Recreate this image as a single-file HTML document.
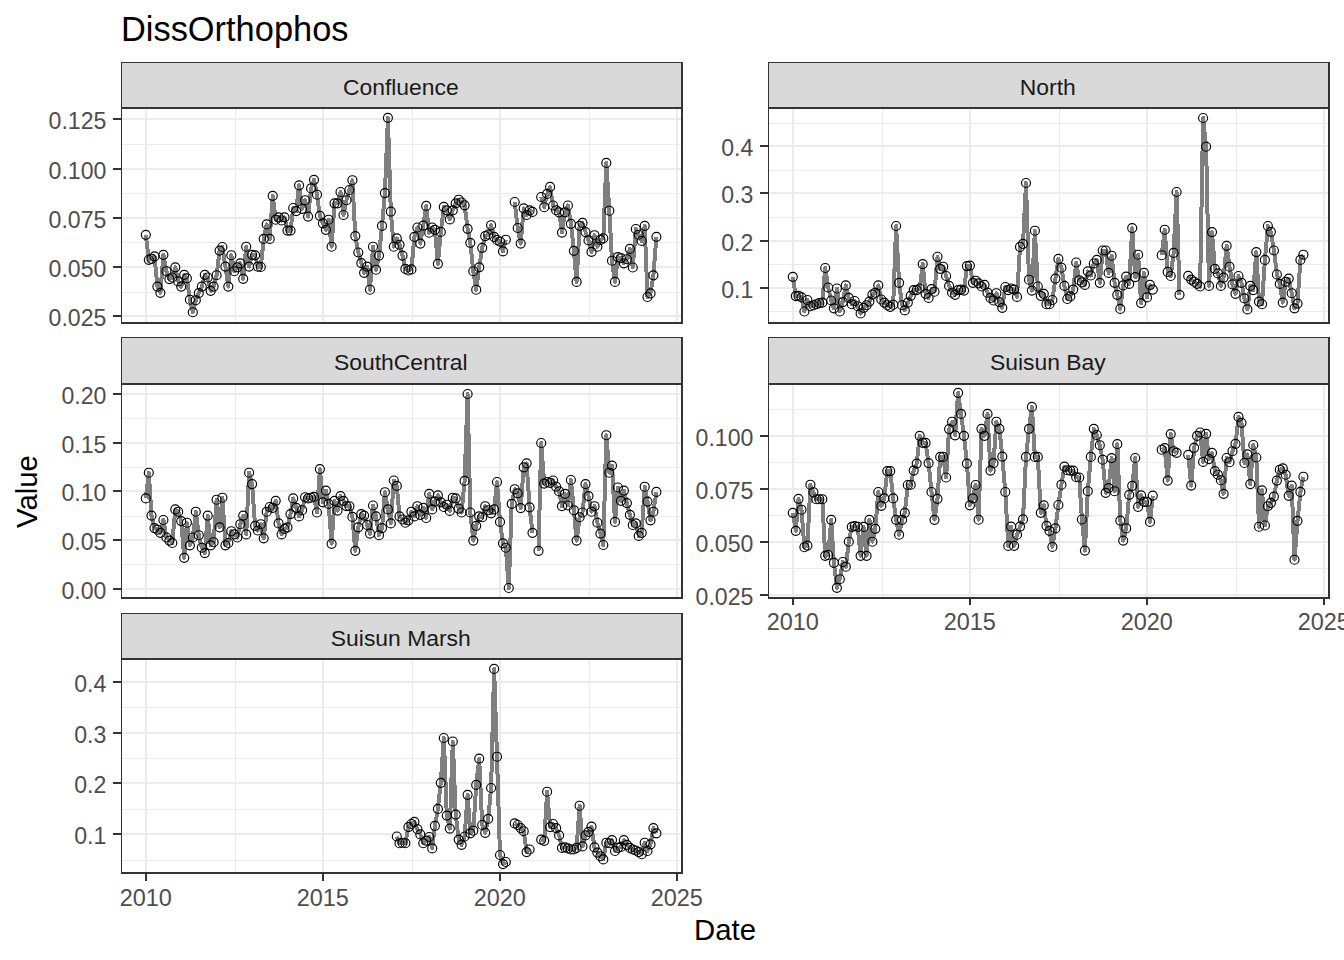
<!DOCTYPE html>
<html lang="en"><head><meta charset="utf-8"><title>DissOrthophos</title>
<style>html,body{margin:0;padding:0;background:#fff;overflow:hidden}body{width:1344px;height:960px}</style></head>
<body>
<svg width="1344" height="960" viewBox="0 0 1344 960" style="display:block" font-family='"Liberation Sans", Arial, Helvetica, sans-serif'>
<rect width="1344" height="960" fill="#fff"/>
<text x="121" y="41" font-size="34.4" fill="#000">DissOrthophos</text>
<g id="p0">
<path d="M121 62h562v46h-562z" fill="#d9d9d9" shape-rendering="crispEdges"/>
<text x="400.8" y="95" font-size="22.9" fill="#1a1a1a" text-anchor="middle">Confluence</text>
<path d="M122 144h559v1h-559zM122 193h559v1h-559zM122 242h559v1h-559zM122 292h559v1h-559zM235 109h1v213h-1zM412 109h1v213h-1zM589 109h1v213h-1zM122 118h559v2h-559zM122 168h559v2h-559zM122 217h559v2h-559zM122 266h559v2h-559zM122 315h559v2h-559zM145 109h2v213h-2zM322 109h2v213h-2zM499 109h2v213h-2zM676 109h2v213h-2z" fill="#ebebeb" shape-rendering="crispEdges"/>
<path d="M145.8 234.8L148.8 259.8L151.5 258.8L154.5 256.4L157.4 286.6L160.4 292.8L163.4 254.8L166.4 271.2L169.4 279.1L172.3 277.5L175.3 267.3L178.2 281.4L181.2 286.6L184.2 274.8L186.9 278.3L189.9 299.7L192.8 312.2L195.8 300.2L198.8 293.1L201.8 286.6L204.8 274.8L207.7 277.5L210.7 290.8L213.6 286.6L216.6 275.2L219.6 250.6L222.4 247L225.4 266.6L228.3 286.6L231.3 255.2L234.3 271.2L237.3 267.3L240.3 263.4L243.2 278.8L246.2 246.7L249.1 266.6L252.1 254.8L255.1 255.3L257.8 266.6L260.8 267L263.7 238.9L266.7 224.4L269.7 238.9L272.7 195.8L275.7 219.7L278.6 217.3L281.6 220.5L284.5 217.3L287.5 230.6L290.5 230.6L293.2 208L296.2 211.1L299.1 185.3L302.1 208.8L305.1 200.2L308.1 216.6L311.1 188.4L314 179.8L317 194.7L319.9 215.8L322.9 223.3L325.9 229.8L328.6 219.7L331.6 246.7L334.5 203.3L337.5 203.3L340.5 192L343.5 215L346.5 200.2L349.4 190L352.4 180.2L355.3 236.1L358.3 252.5L361.3 263.1L364.1 272.8L367.1 266.6L370 289.7L373 246.7L376 269.7L379 255.6L382 225.9L384.9 193.1L387.9 117.8L390.8 211.6L393.8 246.7L396.8 238.4L399.5 244.7L402.5 255.6L405.4 268.9L408.4 270.5L411.4 269.4L414.4 236.9L417.4 227.5L420.3 243.6L423.3 225.6L426.2 205.9L429.2 232.7L432.2 227.5L434.9 229.8L437.9 263.8L440.8 231.9L443.8 206.9L446.8 210.3L449.8 219.4L452.8 210.3L455.7 203.3L458.7 199.7L461.6 202.5L464.6 205.3L467.6 228.8L470.3 242.8L473.3 271.2L476.2 289.7L479.2 267.3L482.2 247.8L485.2 236.1L488.2 234.5L491.1 225.2L494.1 236.9L497 240L500 241.6L503 251.4L505.8 239.7M514.7 202L517.7 228L520.7 243.6L523.7 208.4L526.6 215L529.6 210.3L532.5 211.9M541.2 197L544.2 207.2L547.1 193.9L550.1 186.9L553.1 205.5L556.1 210.2L559.1 212.3L562 232.6L565 212.3L567.9 205.5L570.9 223.8L573.9 250.8L576.6 281.9L579.6 225.8L582.5 222.9L585.5 232.1L588.5 240.4L591.5 251.9L594.5 235.2L597.4 246.7L600.4 239.9L603.3 238.3L606.3 162.9L609.3 210.7L612 260.7L615 281.9L617.9 257.1L620.9 258.1L623.9 263.3L626.9 259.2L629.9 248.8L632.8 267.5L635.8 229L638.7 234.7L641.7 240.9L644.7 225.8L647.5 297L650.5 293.4L653.4 275.3L656.4 236.8" stroke="#7f7f7f" stroke-width="4" fill="none" stroke-linejoin="round" shape-rendering="crispEdges"/>
<g fill="none" stroke="#000" stroke-width="1.15"><circle cx="145.8" cy="234.8" r="4.5"/><circle cx="148.8" cy="259.8" r="4.5"/><circle cx="151.5" cy="258.8" r="4.5"/><circle cx="154.5" cy="256.4" r="4.5"/><circle cx="157.4" cy="286.6" r="4.5"/><circle cx="160.4" cy="292.8" r="4.5"/><circle cx="163.4" cy="254.8" r="4.5"/><circle cx="166.4" cy="271.2" r="4.5"/><circle cx="169.4" cy="279.1" r="4.5"/><circle cx="172.3" cy="277.5" r="4.5"/><circle cx="175.3" cy="267.3" r="4.5"/><circle cx="178.2" cy="281.4" r="4.5"/><circle cx="181.2" cy="286.6" r="4.5"/><circle cx="184.2" cy="274.8" r="4.5"/><circle cx="186.9" cy="278.3" r="4.5"/><circle cx="189.9" cy="299.7" r="4.5"/><circle cx="192.8" cy="312.2" r="4.5"/><circle cx="195.8" cy="300.2" r="4.5"/><circle cx="198.8" cy="293.1" r="4.5"/><circle cx="201.8" cy="286.6" r="4.5"/><circle cx="204.8" cy="274.8" r="4.5"/><circle cx="207.7" cy="277.5" r="4.5"/><circle cx="210.7" cy="290.8" r="4.5"/><circle cx="213.6" cy="286.6" r="4.5"/><circle cx="216.6" cy="275.2" r="4.5"/><circle cx="219.6" cy="250.6" r="4.5"/><circle cx="222.4" cy="247" r="4.5"/><circle cx="225.4" cy="266.6" r="4.5"/><circle cx="228.3" cy="286.6" r="4.5"/><circle cx="231.3" cy="255.2" r="4.5"/><circle cx="234.3" cy="271.2" r="4.5"/><circle cx="237.3" cy="267.3" r="4.5"/><circle cx="240.3" cy="263.4" r="4.5"/><circle cx="243.2" cy="278.8" r="4.5"/><circle cx="246.2" cy="246.7" r="4.5"/><circle cx="249.1" cy="266.6" r="4.5"/><circle cx="252.1" cy="254.8" r="4.5"/><circle cx="255.1" cy="255.3" r="4.5"/><circle cx="257.8" cy="266.6" r="4.5"/><circle cx="260.8" cy="267" r="4.5"/><circle cx="263.7" cy="238.9" r="4.5"/><circle cx="266.7" cy="224.4" r="4.5"/><circle cx="269.7" cy="238.9" r="4.5"/><circle cx="272.7" cy="195.8" r="4.5"/><circle cx="275.7" cy="219.7" r="4.5"/><circle cx="278.6" cy="217.3" r="4.5"/><circle cx="281.6" cy="220.5" r="4.5"/><circle cx="284.5" cy="217.3" r="4.5"/><circle cx="287.5" cy="230.6" r="4.5"/><circle cx="290.5" cy="230.6" r="4.5"/><circle cx="293.2" cy="208" r="4.5"/><circle cx="296.2" cy="211.1" r="4.5"/><circle cx="299.1" cy="185.3" r="4.5"/><circle cx="302.1" cy="208.8" r="4.5"/><circle cx="305.1" cy="200.2" r="4.5"/><circle cx="308.1" cy="216.6" r="4.5"/><circle cx="311.1" cy="188.4" r="4.5"/><circle cx="314" cy="179.8" r="4.5"/><circle cx="317" cy="194.7" r="4.5"/><circle cx="319.9" cy="215.8" r="4.5"/><circle cx="322.9" cy="223.3" r="4.5"/><circle cx="325.9" cy="229.8" r="4.5"/><circle cx="328.6" cy="219.7" r="4.5"/><circle cx="331.6" cy="246.7" r="4.5"/><circle cx="334.5" cy="203.3" r="4.5"/><circle cx="337.5" cy="203.3" r="4.5"/><circle cx="340.5" cy="192" r="4.5"/><circle cx="343.5" cy="215" r="4.5"/><circle cx="346.5" cy="200.2" r="4.5"/><circle cx="349.4" cy="190" r="4.5"/><circle cx="352.4" cy="180.2" r="4.5"/><circle cx="355.3" cy="236.1" r="4.5"/><circle cx="358.3" cy="252.5" r="4.5"/><circle cx="361.3" cy="263.1" r="4.5"/><circle cx="364.1" cy="272.8" r="4.5"/><circle cx="367.1" cy="266.6" r="4.5"/><circle cx="370" cy="289.7" r="4.5"/><circle cx="373" cy="246.7" r="4.5"/><circle cx="376" cy="269.7" r="4.5"/><circle cx="379" cy="255.6" r="4.5"/><circle cx="382" cy="225.9" r="4.5"/><circle cx="384.9" cy="193.1" r="4.5"/><circle cx="387.9" cy="117.8" r="4.5"/><circle cx="390.8" cy="211.6" r="4.5"/><circle cx="393.8" cy="246.7" r="4.5"/><circle cx="396.8" cy="238.4" r="4.5"/><circle cx="399.5" cy="244.7" r="4.5"/><circle cx="402.5" cy="255.6" r="4.5"/><circle cx="405.4" cy="268.9" r="4.5"/><circle cx="408.4" cy="270.5" r="4.5"/><circle cx="411.4" cy="269.4" r="4.5"/><circle cx="414.4" cy="236.9" r="4.5"/><circle cx="417.4" cy="227.5" r="4.5"/><circle cx="420.3" cy="243.6" r="4.5"/><circle cx="423.3" cy="225.6" r="4.5"/><circle cx="426.2" cy="205.9" r="4.5"/><circle cx="429.2" cy="232.7" r="4.5"/><circle cx="432.2" cy="227.5" r="4.5"/><circle cx="434.9" cy="229.8" r="4.5"/><circle cx="437.9" cy="263.8" r="4.5"/><circle cx="440.8" cy="231.9" r="4.5"/><circle cx="443.8" cy="206.9" r="4.5"/><circle cx="446.8" cy="210.3" r="4.5"/><circle cx="449.8" cy="219.4" r="4.5"/><circle cx="452.8" cy="210.3" r="4.5"/><circle cx="455.7" cy="203.3" r="4.5"/><circle cx="458.7" cy="199.7" r="4.5"/><circle cx="461.6" cy="202.5" r="4.5"/><circle cx="464.6" cy="205.3" r="4.5"/><circle cx="467.6" cy="228.8" r="4.5"/><circle cx="470.3" cy="242.8" r="4.5"/><circle cx="473.3" cy="271.2" r="4.5"/><circle cx="476.2" cy="289.7" r="4.5"/><circle cx="479.2" cy="267.3" r="4.5"/><circle cx="482.2" cy="247.8" r="4.5"/><circle cx="485.2" cy="236.1" r="4.5"/><circle cx="488.2" cy="234.5" r="4.5"/><circle cx="491.1" cy="225.2" r="4.5"/><circle cx="494.1" cy="236.9" r="4.5"/><circle cx="497" cy="240" r="4.5"/><circle cx="500" cy="241.6" r="4.5"/><circle cx="503" cy="251.4" r="4.5"/><circle cx="505.8" cy="239.7" r="4.5"/><circle cx="514.7" cy="202" r="4.5"/><circle cx="517.7" cy="228" r="4.5"/><circle cx="520.7" cy="243.6" r="4.5"/><circle cx="523.7" cy="208.4" r="4.5"/><circle cx="526.6" cy="215" r="4.5"/><circle cx="529.6" cy="210.3" r="4.5"/><circle cx="532.5" cy="211.9" r="4.5"/><circle cx="541.2" cy="197" r="4.5"/><circle cx="544.2" cy="207.2" r="4.5"/><circle cx="547.1" cy="193.9" r="4.5"/><circle cx="550.1" cy="186.9" r="4.5"/><circle cx="553.1" cy="205.5" r="4.5"/><circle cx="556.1" cy="210.2" r="4.5"/><circle cx="559.1" cy="212.3" r="4.5"/><circle cx="562" cy="232.6" r="4.5"/><circle cx="565" cy="212.3" r="4.5"/><circle cx="567.9" cy="205.5" r="4.5"/><circle cx="570.9" cy="223.8" r="4.5"/><circle cx="573.9" cy="250.8" r="4.5"/><circle cx="576.6" cy="281.9" r="4.5"/><circle cx="579.6" cy="225.8" r="4.5"/><circle cx="582.5" cy="222.9" r="4.5"/><circle cx="585.5" cy="232.1" r="4.5"/><circle cx="588.5" cy="240.4" r="4.5"/><circle cx="591.5" cy="251.9" r="4.5"/><circle cx="594.5" cy="235.2" r="4.5"/><circle cx="597.4" cy="246.7" r="4.5"/><circle cx="600.4" cy="239.9" r="4.5"/><circle cx="603.3" cy="238.3" r="4.5"/><circle cx="606.3" cy="162.9" r="4.5"/><circle cx="609.3" cy="210.7" r="4.5"/><circle cx="612" cy="260.7" r="4.5"/><circle cx="615" cy="281.9" r="4.5"/><circle cx="617.9" cy="257.1" r="4.5"/><circle cx="620.9" cy="258.1" r="4.5"/><circle cx="623.9" cy="263.3" r="4.5"/><circle cx="626.9" cy="259.2" r="4.5"/><circle cx="629.9" cy="248.8" r="4.5"/><circle cx="632.8" cy="267.5" r="4.5"/><circle cx="635.8" cy="229" r="4.5"/><circle cx="638.7" cy="234.7" r="4.5"/><circle cx="641.7" cy="240.9" r="4.5"/><circle cx="644.7" cy="225.8" r="4.5"/><circle cx="647.5" cy="297" r="4.5"/><circle cx="650.5" cy="293.4" r="4.5"/><circle cx="653.4" cy="275.3" r="4.5"/><circle cx="656.4" cy="236.8" r="4.5"/></g>
<path d="M121 62h562v1h-562zM121 62h1v262h-1zM681 62h2v262h-2zM121 107h562v2h-562zM121 322h562v2h-562zM113 118h8v2h-8zM113 168h8v2h-8zM113 217h8v2h-8zM113 266h8v2h-8zM113 315h8v2h-8z" fill="#333" shape-rendering="crispEdges"/>
<g font-size="23.1" fill="#4d4d4d" text-anchor="end">
<text x="106.4" y="128.6">0.125</text>
<text x="106.4" y="178.6">0.100</text>
<text x="106.4" y="227.6">0.075</text>
<text x="106.4" y="276.6">0.050</text>
<text x="106.4" y="325.6">0.025</text>
</g>
</g>
<g id="p1">
<path d="M768 62h562v46h-562z" fill="#d9d9d9" shape-rendering="crispEdges"/>
<text x="1047.8" y="95" font-size="22.9" fill="#1a1a1a" text-anchor="middle">North</text>
<path d="M769 123h559v1h-559zM769 170h559v1h-559zM769 217h559v1h-559zM769 264h559v1h-559zM769 311h559v1h-559zM882 109h1v213h-1zM1059 109h1v213h-1zM1236 109h1v213h-1zM769 145h559v2h-559zM769 192h559v2h-559zM769 240h559v2h-559zM769 287h559v2h-559zM792 109h2v213h-2zM969 109h2v213h-2zM1146 109h2v213h-2zM1323 109h2v213h-2z" fill="#ebebeb" shape-rendering="crispEdges"/>
<path d="M792.8 276.8L795.8 296.1L798.5 295.8L801.5 297.4L804.4 311.5L807.4 300L810.4 306.2L813.4 305.2L816.4 304.2L819.3 303.1L822.3 302.6L825.2 268L828.2 287.5L831.2 300.5L833.9 308.3L836.9 288.5L839.8 311.5L842.8 302.1L845.8 285.4L848.8 297.9L851.8 304.2L854.7 301L857.7 306.2L860.6 313.5L863.6 307.8L866.6 305.2L869.4 301.6L872.4 294.6L875.3 292.7L878.3 285.4L881.3 299.5L884.3 302.6L887.3 305.2L890.2 306.8L893.2 304.7L896.1 226L899.1 282.8L902.1 305.2L904.8 310.4L907.8 302.6L910.7 295.8L913.7 290.1L916.7 290.1L919.7 288.5L922.7 264.1L925.6 293.8L928.6 297.9L931.5 289.1L934.5 291.7L937.5 256.8L940.2 268.8L943.2 266.7L946.1 276L949.1 285.9L952.1 292.7L955.1 294.8L958.1 290.1L961 289.6L964 290.6L966.9 266.1L969.9 265.6L972.9 282.8L975.6 280.7L978.6 283.3L981.5 286.5L984.5 284.9L987.5 292.7L990.5 297.9L993.5 300.5L996.4 293.2L999.4 302.1L1002.3 307.8L1005.3 287L1008.3 290.1L1011.1 288.5L1014.1 289.6L1017 296.9L1020 246.9L1023 243.8L1026 183L1029 279.7L1031.9 290.6L1034.9 230.7L1037.8 286.5L1040.8 295.8L1043.8 293.8L1046.5 304.2L1049.5 304.2L1052.4 300L1055.4 278.6L1058.4 258.9L1061.4 267.7L1064.4 285.9L1067.3 299L1070.3 296.4L1073.2 289.6L1076.2 262.5L1079.2 280.2L1081.9 282.3L1084.9 284.9L1087.8 271.4L1090.8 275.5L1093.8 263.5L1096.8 259.9L1099.8 282.8L1102.7 250.5L1105.7 250.5L1108.6 272.9L1111.6 255.7L1114.6 282.8L1117.3 294.8L1120.3 308.9L1123.2 285.4L1126.2 276.6L1129.2 283.9L1132.2 228.1L1135.2 277.1L1138.1 254.7L1141.1 303.1L1144 272.9L1147 297.4L1150 284.9L1152.8 289.6M1161.7 255.2L1164.7 229.7L1167.7 271.9L1170.7 276L1173.6 252.9L1176.6 192L1179.5 294.8M1188.2 275.9L1191.2 279.6L1194.1 281.7L1197.1 283.8L1200.1 286.5L1203.1 118L1206.1 146.7L1209 285.9L1212 232.1L1214.9 268.8L1217.9 273.4L1220.9 285.9L1223.6 277.6L1226.6 245.8L1229.5 266.7L1232.5 284.4L1235.5 293.8L1238.5 276L1241.5 282.8L1244.4 298.4L1247.4 309.4L1250.3 285.9L1253.3 290.1L1256.3 252.1L1259 301.6L1262 304.2L1264.9 259.9L1267.9 226L1270.9 231.8L1273.9 250.5L1276.9 274.5L1279.8 283.9L1282.8 302.6L1285.7 281.8L1288.7 278.6L1291.7 293.2L1294.5 308.3L1297.5 303.6L1300.4 259.9L1303.4 254.7" stroke="#7f7f7f" stroke-width="4" fill="none" stroke-linejoin="round" shape-rendering="crispEdges"/>
<g fill="none" stroke="#000" stroke-width="1.15"><circle cx="792.8" cy="276.8" r="4.5"/><circle cx="795.8" cy="296.1" r="4.5"/><circle cx="798.5" cy="295.8" r="4.5"/><circle cx="801.5" cy="297.4" r="4.5"/><circle cx="804.4" cy="311.5" r="4.5"/><circle cx="807.4" cy="300" r="4.5"/><circle cx="810.4" cy="306.2" r="4.5"/><circle cx="813.4" cy="305.2" r="4.5"/><circle cx="816.4" cy="304.2" r="4.5"/><circle cx="819.3" cy="303.1" r="4.5"/><circle cx="822.3" cy="302.6" r="4.5"/><circle cx="825.2" cy="268" r="4.5"/><circle cx="828.2" cy="287.5" r="4.5"/><circle cx="831.2" cy="300.5" r="4.5"/><circle cx="833.9" cy="308.3" r="4.5"/><circle cx="836.9" cy="288.5" r="4.5"/><circle cx="839.8" cy="311.5" r="4.5"/><circle cx="842.8" cy="302.1" r="4.5"/><circle cx="845.8" cy="285.4" r="4.5"/><circle cx="848.8" cy="297.9" r="4.5"/><circle cx="851.8" cy="304.2" r="4.5"/><circle cx="854.7" cy="301" r="4.5"/><circle cx="857.7" cy="306.2" r="4.5"/><circle cx="860.6" cy="313.5" r="4.5"/><circle cx="863.6" cy="307.8" r="4.5"/><circle cx="866.6" cy="305.2" r="4.5"/><circle cx="869.4" cy="301.6" r="4.5"/><circle cx="872.4" cy="294.6" r="4.5"/><circle cx="875.3" cy="292.7" r="4.5"/><circle cx="878.3" cy="285.4" r="4.5"/><circle cx="881.3" cy="299.5" r="4.5"/><circle cx="884.3" cy="302.6" r="4.5"/><circle cx="887.3" cy="305.2" r="4.5"/><circle cx="890.2" cy="306.8" r="4.5"/><circle cx="893.2" cy="304.7" r="4.5"/><circle cx="896.1" cy="226" r="4.5"/><circle cx="899.1" cy="282.8" r="4.5"/><circle cx="902.1" cy="305.2" r="4.5"/><circle cx="904.8" cy="310.4" r="4.5"/><circle cx="907.8" cy="302.6" r="4.5"/><circle cx="910.7" cy="295.8" r="4.5"/><circle cx="913.7" cy="290.1" r="4.5"/><circle cx="916.7" cy="290.1" r="4.5"/><circle cx="919.7" cy="288.5" r="4.5"/><circle cx="922.7" cy="264.1" r="4.5"/><circle cx="925.6" cy="293.8" r="4.5"/><circle cx="928.6" cy="297.9" r="4.5"/><circle cx="931.5" cy="289.1" r="4.5"/><circle cx="934.5" cy="291.7" r="4.5"/><circle cx="937.5" cy="256.8" r="4.5"/><circle cx="940.2" cy="268.8" r="4.5"/><circle cx="943.2" cy="266.7" r="4.5"/><circle cx="946.1" cy="276" r="4.5"/><circle cx="949.1" cy="285.9" r="4.5"/><circle cx="952.1" cy="292.7" r="4.5"/><circle cx="955.1" cy="294.8" r="4.5"/><circle cx="958.1" cy="290.1" r="4.5"/><circle cx="961" cy="289.6" r="4.5"/><circle cx="964" cy="290.6" r="4.5"/><circle cx="966.9" cy="266.1" r="4.5"/><circle cx="969.9" cy="265.6" r="4.5"/><circle cx="972.9" cy="282.8" r="4.5"/><circle cx="975.6" cy="280.7" r="4.5"/><circle cx="978.6" cy="283.3" r="4.5"/><circle cx="981.5" cy="286.5" r="4.5"/><circle cx="984.5" cy="284.9" r="4.5"/><circle cx="987.5" cy="292.7" r="4.5"/><circle cx="990.5" cy="297.9" r="4.5"/><circle cx="993.5" cy="300.5" r="4.5"/><circle cx="996.4" cy="293.2" r="4.5"/><circle cx="999.4" cy="302.1" r="4.5"/><circle cx="1002.3" cy="307.8" r="4.5"/><circle cx="1005.3" cy="287" r="4.5"/><circle cx="1008.3" cy="290.1" r="4.5"/><circle cx="1011.1" cy="288.5" r="4.5"/><circle cx="1014.1" cy="289.6" r="4.5"/><circle cx="1017" cy="296.9" r="4.5"/><circle cx="1020" cy="246.9" r="4.5"/><circle cx="1023" cy="243.8" r="4.5"/><circle cx="1026" cy="183" r="4.5"/><circle cx="1029" cy="279.7" r="4.5"/><circle cx="1031.9" cy="290.6" r="4.5"/><circle cx="1034.9" cy="230.7" r="4.5"/><circle cx="1037.8" cy="286.5" r="4.5"/><circle cx="1040.8" cy="295.8" r="4.5"/><circle cx="1043.8" cy="293.8" r="4.5"/><circle cx="1046.5" cy="304.2" r="4.5"/><circle cx="1049.5" cy="304.2" r="4.5"/><circle cx="1052.4" cy="300" r="4.5"/><circle cx="1055.4" cy="278.6" r="4.5"/><circle cx="1058.4" cy="258.9" r="4.5"/><circle cx="1061.4" cy="267.7" r="4.5"/><circle cx="1064.4" cy="285.9" r="4.5"/><circle cx="1067.3" cy="299" r="4.5"/><circle cx="1070.3" cy="296.4" r="4.5"/><circle cx="1073.2" cy="289.6" r="4.5"/><circle cx="1076.2" cy="262.5" r="4.5"/><circle cx="1079.2" cy="280.2" r="4.5"/><circle cx="1081.9" cy="282.3" r="4.5"/><circle cx="1084.9" cy="284.9" r="4.5"/><circle cx="1087.8" cy="271.4" r="4.5"/><circle cx="1090.8" cy="275.5" r="4.5"/><circle cx="1093.8" cy="263.5" r="4.5"/><circle cx="1096.8" cy="259.9" r="4.5"/><circle cx="1099.8" cy="282.8" r="4.5"/><circle cx="1102.7" cy="250.5" r="4.5"/><circle cx="1105.7" cy="250.5" r="4.5"/><circle cx="1108.6" cy="272.9" r="4.5"/><circle cx="1111.6" cy="255.7" r="4.5"/><circle cx="1114.6" cy="282.8" r="4.5"/><circle cx="1117.3" cy="294.8" r="4.5"/><circle cx="1120.3" cy="308.9" r="4.5"/><circle cx="1123.2" cy="285.4" r="4.5"/><circle cx="1126.2" cy="276.6" r="4.5"/><circle cx="1129.2" cy="283.9" r="4.5"/><circle cx="1132.2" cy="228.1" r="4.5"/><circle cx="1135.2" cy="277.1" r="4.5"/><circle cx="1138.1" cy="254.7" r="4.5"/><circle cx="1141.1" cy="303.1" r="4.5"/><circle cx="1144" cy="272.9" r="4.5"/><circle cx="1147" cy="297.4" r="4.5"/><circle cx="1150" cy="284.9" r="4.5"/><circle cx="1152.8" cy="289.6" r="4.5"/><circle cx="1161.7" cy="255.2" r="4.5"/><circle cx="1164.7" cy="229.7" r="4.5"/><circle cx="1167.7" cy="271.9" r="4.5"/><circle cx="1170.7" cy="276" r="4.5"/><circle cx="1173.6" cy="252.9" r="4.5"/><circle cx="1176.6" cy="192" r="4.5"/><circle cx="1179.5" cy="294.8" r="4.5"/><circle cx="1188.2" cy="275.9" r="4.5"/><circle cx="1191.2" cy="279.6" r="4.5"/><circle cx="1194.1" cy="281.7" r="4.5"/><circle cx="1197.1" cy="283.8" r="4.5"/><circle cx="1200.1" cy="286.5" r="4.5"/><circle cx="1203.1" cy="118" r="4.5"/><circle cx="1206.1" cy="146.7" r="4.5"/><circle cx="1209" cy="285.9" r="4.5"/><circle cx="1212" cy="232.1" r="4.5"/><circle cx="1214.9" cy="268.8" r="4.5"/><circle cx="1217.9" cy="273.4" r="4.5"/><circle cx="1220.9" cy="285.9" r="4.5"/><circle cx="1223.6" cy="277.6" r="4.5"/><circle cx="1226.6" cy="245.8" r="4.5"/><circle cx="1229.5" cy="266.7" r="4.5"/><circle cx="1232.5" cy="284.4" r="4.5"/><circle cx="1235.5" cy="293.8" r="4.5"/><circle cx="1238.5" cy="276" r="4.5"/><circle cx="1241.5" cy="282.8" r="4.5"/><circle cx="1244.4" cy="298.4" r="4.5"/><circle cx="1247.4" cy="309.4" r="4.5"/><circle cx="1250.3" cy="285.9" r="4.5"/><circle cx="1253.3" cy="290.1" r="4.5"/><circle cx="1256.3" cy="252.1" r="4.5"/><circle cx="1259" cy="301.6" r="4.5"/><circle cx="1262" cy="304.2" r="4.5"/><circle cx="1264.9" cy="259.9" r="4.5"/><circle cx="1267.9" cy="226" r="4.5"/><circle cx="1270.9" cy="231.8" r="4.5"/><circle cx="1273.9" cy="250.5" r="4.5"/><circle cx="1276.9" cy="274.5" r="4.5"/><circle cx="1279.8" cy="283.9" r="4.5"/><circle cx="1282.8" cy="302.6" r="4.5"/><circle cx="1285.7" cy="281.8" r="4.5"/><circle cx="1288.7" cy="278.6" r="4.5"/><circle cx="1291.7" cy="293.2" r="4.5"/><circle cx="1294.5" cy="308.3" r="4.5"/><circle cx="1297.5" cy="303.6" r="4.5"/><circle cx="1300.4" cy="259.9" r="4.5"/><circle cx="1303.4" cy="254.7" r="4.5"/></g>
<path d="M768 62h562v1h-562zM768 62h1v262h-1zM1328 62h2v262h-2zM768 107h562v2h-562zM768 322h562v2h-562zM760 145h8v2h-8zM760 192h8v2h-8zM760 240h8v2h-8zM760 287h8v2h-8z" fill="#333" shape-rendering="crispEdges"/>
<g font-size="23.1" fill="#4d4d4d" text-anchor="end">
<text x="753.4" y="155.6">0.4</text>
<text x="753.4" y="202.6">0.3</text>
<text x="753.4" y="250.6">0.2</text>
<text x="753.4" y="297.6">0.1</text>
</g>
</g>
<g id="p2">
<path d="M121 337h562v47h-562z" fill="#d9d9d9" shape-rendering="crispEdges"/>
<text x="400.8" y="370" font-size="22.9" fill="#1a1a1a" text-anchor="middle">SouthCentral</text>
<path d="M122 418h559v1h-559zM122 467h559v1h-559zM122 516h559v1h-559zM122 564h559v1h-559zM235 385h1v212h-1zM412 385h1v212h-1zM589 385h1v212h-1zM122 393h559v2h-559zM122 442h559v2h-559zM122 490h559v2h-559zM122 539h559v2h-559zM122 588h559v2h-559zM145 385h2v212h-2zM322 385h2v212h-2zM499 385h2v212h-2zM676 385h2v212h-2z" fill="#ebebeb" shape-rendering="crispEdges"/>
<path d="M145.8 498.4L148.8 472.7L151.5 515.6L154.5 528.1L157.4 529.7L160.4 532.8L163.4 520L166.4 537.5L169.4 540.6L172.3 543L175.3 509.4L178.2 511.7L181.2 521.1L184.2 557.8L186.9 522.7L189.9 545.3L192.8 537.5L195.8 511.7L198.8 535.2L201.8 547.7L204.8 553.1L207.7 515.6L210.7 545.3L213.6 542.2L216.6 499.7L219.6 527.3L222.4 497.7L225.4 545.3L228.3 543L231.3 531.2L234.3 534.4L237.3 537.5L240.3 524.2L243.2 515.6L246.2 534.4L249.1 472.7L252.1 484.1L255.1 525.8L257.8 530.5L260.8 524.2L263.7 538.3L266.7 511.7L269.7 507L272.7 507.8L275.7 500.8L278.6 523.4L281.6 534.4L284.5 528.9L287.5 527.3L290.5 514.1L293.2 498.4L296.2 507.8L299.1 516.4L302.1 510.2L305.1 497.2L308.1 498.4L311.1 497.7L314 496.9L317 512.5L319.9 469.1L322.9 502.3L325.9 490.6L328.6 503.9L331.6 543.8L334.5 500.8L337.5 510.6L340.5 496.1L343.5 500.8L346.5 506.2L349.4 506.2L352.4 516.9L355.3 550.8L358.3 527.3L361.3 514.1L364.1 515.6L367.1 525L370 533.6L373 505.5L376 516.4L379 535.2L382 528.1L384.9 492.2L387.9 509.4L390.8 523.4L393.8 480.5L396.8 485.9L399.5 516.4L402.5 519.5L405.4 522.7L408.4 520.3L411.4 511.7L414.4 516.4L417.4 506.2L420.3 514.8L423.3 507.8L426.2 518L429.2 493.8L432.2 509.4L434.9 501.6L437.9 495.3L440.8 502.3L443.8 507L446.8 504.7L449.8 510.9L452.8 497.7L455.7 498.4L458.7 508.6L461.6 512.5L464.6 480.9L467.6 394L470.3 512.5L473.3 540.6L476.2 525.8L479.2 516.4L482.2 517.2L485.2 506.2L488.2 510.2L491.1 513.3L494.1 509.4L497 482L500 521.9L503 543.3L505.8 547.7L508.8 588L511.7 503.9L514.7 489.2L517.7 493.3L520.7 508.1L523.7 467.3L526.6 463.3L529.6 507.3L532.5 532.8M538.5 550.8L541.2 443L544.2 483.6L547.1 482L550.1 482.8L553.1 480.5L556.1 486.7L559.1 491.4L562 506.2L565 493.8L567.9 505.5L570.9 480L573.9 510.2L576.6 540.6L579.6 517.2L582.5 512.5L585.5 484.1L588.5 496.1L591.5 511.7L594.5 506.2L597.4 522.7L600.4 533.6L603.3 545L606.3 435.2L609.3 472.7L612 465.6L615 521.9L617.9 487.5L620.9 500.8L623.9 490.6L626.9 503.1L629.9 514.8L632.8 525L635.8 523.4L638.7 535.9L641.7 532.8L644.7 486.7L647.5 501.6L650.5 520.3L653.4 511.7L656.4 491.9" stroke="#7f7f7f" stroke-width="4" fill="none" stroke-linejoin="round" shape-rendering="crispEdges"/>
<g fill="none" stroke="#000" stroke-width="1.15"><circle cx="145.8" cy="498.4" r="4.5"/><circle cx="148.8" cy="472.7" r="4.5"/><circle cx="151.5" cy="515.6" r="4.5"/><circle cx="154.5" cy="528.1" r="4.5"/><circle cx="157.4" cy="529.7" r="4.5"/><circle cx="160.4" cy="532.8" r="4.5"/><circle cx="163.4" cy="520" r="4.5"/><circle cx="166.4" cy="537.5" r="4.5"/><circle cx="169.4" cy="540.6" r="4.5"/><circle cx="172.3" cy="543" r="4.5"/><circle cx="175.3" cy="509.4" r="4.5"/><circle cx="178.2" cy="511.7" r="4.5"/><circle cx="181.2" cy="521.1" r="4.5"/><circle cx="184.2" cy="557.8" r="4.5"/><circle cx="186.9" cy="522.7" r="4.5"/><circle cx="189.9" cy="545.3" r="4.5"/><circle cx="192.8" cy="537.5" r="4.5"/><circle cx="195.8" cy="511.7" r="4.5"/><circle cx="198.8" cy="535.2" r="4.5"/><circle cx="201.8" cy="547.7" r="4.5"/><circle cx="204.8" cy="553.1" r="4.5"/><circle cx="207.7" cy="515.6" r="4.5"/><circle cx="210.7" cy="545.3" r="4.5"/><circle cx="213.6" cy="542.2" r="4.5"/><circle cx="216.6" cy="499.7" r="4.5"/><circle cx="219.6" cy="527.3" r="4.5"/><circle cx="222.4" cy="497.7" r="4.5"/><circle cx="225.4" cy="545.3" r="4.5"/><circle cx="228.3" cy="543" r="4.5"/><circle cx="231.3" cy="531.2" r="4.5"/><circle cx="234.3" cy="534.4" r="4.5"/><circle cx="237.3" cy="537.5" r="4.5"/><circle cx="240.3" cy="524.2" r="4.5"/><circle cx="243.2" cy="515.6" r="4.5"/><circle cx="246.2" cy="534.4" r="4.5"/><circle cx="249.1" cy="472.7" r="4.5"/><circle cx="252.1" cy="484.1" r="4.5"/><circle cx="255.1" cy="525.8" r="4.5"/><circle cx="257.8" cy="530.5" r="4.5"/><circle cx="260.8" cy="524.2" r="4.5"/><circle cx="263.7" cy="538.3" r="4.5"/><circle cx="266.7" cy="511.7" r="4.5"/><circle cx="269.7" cy="507" r="4.5"/><circle cx="272.7" cy="507.8" r="4.5"/><circle cx="275.7" cy="500.8" r="4.5"/><circle cx="278.6" cy="523.4" r="4.5"/><circle cx="281.6" cy="534.4" r="4.5"/><circle cx="284.5" cy="528.9" r="4.5"/><circle cx="287.5" cy="527.3" r="4.5"/><circle cx="290.5" cy="514.1" r="4.5"/><circle cx="293.2" cy="498.4" r="4.5"/><circle cx="296.2" cy="507.8" r="4.5"/><circle cx="299.1" cy="516.4" r="4.5"/><circle cx="302.1" cy="510.2" r="4.5"/><circle cx="305.1" cy="497.2" r="4.5"/><circle cx="308.1" cy="498.4" r="4.5"/><circle cx="311.1" cy="497.7" r="4.5"/><circle cx="314" cy="496.9" r="4.5"/><circle cx="317" cy="512.5" r="4.5"/><circle cx="319.9" cy="469.1" r="4.5"/><circle cx="322.9" cy="502.3" r="4.5"/><circle cx="325.9" cy="490.6" r="4.5"/><circle cx="328.6" cy="503.9" r="4.5"/><circle cx="331.6" cy="543.8" r="4.5"/><circle cx="334.5" cy="500.8" r="4.5"/><circle cx="337.5" cy="510.6" r="4.5"/><circle cx="340.5" cy="496.1" r="4.5"/><circle cx="343.5" cy="500.8" r="4.5"/><circle cx="346.5" cy="506.2" r="4.5"/><circle cx="349.4" cy="506.2" r="4.5"/><circle cx="352.4" cy="516.9" r="4.5"/><circle cx="355.3" cy="550.8" r="4.5"/><circle cx="358.3" cy="527.3" r="4.5"/><circle cx="361.3" cy="514.1" r="4.5"/><circle cx="364.1" cy="515.6" r="4.5"/><circle cx="367.1" cy="525" r="4.5"/><circle cx="370" cy="533.6" r="4.5"/><circle cx="373" cy="505.5" r="4.5"/><circle cx="376" cy="516.4" r="4.5"/><circle cx="379" cy="535.2" r="4.5"/><circle cx="382" cy="528.1" r="4.5"/><circle cx="384.9" cy="492.2" r="4.5"/><circle cx="387.9" cy="509.4" r="4.5"/><circle cx="390.8" cy="523.4" r="4.5"/><circle cx="393.8" cy="480.5" r="4.5"/><circle cx="396.8" cy="485.9" r="4.5"/><circle cx="399.5" cy="516.4" r="4.5"/><circle cx="402.5" cy="519.5" r="4.5"/><circle cx="405.4" cy="522.7" r="4.5"/><circle cx="408.4" cy="520.3" r="4.5"/><circle cx="411.4" cy="511.7" r="4.5"/><circle cx="414.4" cy="516.4" r="4.5"/><circle cx="417.4" cy="506.2" r="4.5"/><circle cx="420.3" cy="514.8" r="4.5"/><circle cx="423.3" cy="507.8" r="4.5"/><circle cx="426.2" cy="518" r="4.5"/><circle cx="429.2" cy="493.8" r="4.5"/><circle cx="432.2" cy="509.4" r="4.5"/><circle cx="434.9" cy="501.6" r="4.5"/><circle cx="437.9" cy="495.3" r="4.5"/><circle cx="440.8" cy="502.3" r="4.5"/><circle cx="443.8" cy="507" r="4.5"/><circle cx="446.8" cy="504.7" r="4.5"/><circle cx="449.8" cy="510.9" r="4.5"/><circle cx="452.8" cy="497.7" r="4.5"/><circle cx="455.7" cy="498.4" r="4.5"/><circle cx="458.7" cy="508.6" r="4.5"/><circle cx="461.6" cy="512.5" r="4.5"/><circle cx="464.6" cy="480.9" r="4.5"/><circle cx="467.6" cy="394" r="4.5"/><circle cx="470.3" cy="512.5" r="4.5"/><circle cx="473.3" cy="540.6" r="4.5"/><circle cx="476.2" cy="525.8" r="4.5"/><circle cx="479.2" cy="516.4" r="4.5"/><circle cx="482.2" cy="517.2" r="4.5"/><circle cx="485.2" cy="506.2" r="4.5"/><circle cx="488.2" cy="510.2" r="4.5"/><circle cx="491.1" cy="513.3" r="4.5"/><circle cx="494.1" cy="509.4" r="4.5"/><circle cx="497" cy="482" r="4.5"/><circle cx="500" cy="521.9" r="4.5"/><circle cx="503" cy="543.3" r="4.5"/><circle cx="505.8" cy="547.7" r="4.5"/><circle cx="508.8" cy="588" r="4.5"/><circle cx="511.7" cy="503.9" r="4.5"/><circle cx="514.7" cy="489.2" r="4.5"/><circle cx="517.7" cy="493.3" r="4.5"/><circle cx="520.7" cy="508.1" r="4.5"/><circle cx="523.7" cy="467.3" r="4.5"/><circle cx="526.6" cy="463.3" r="4.5"/><circle cx="529.6" cy="507.3" r="4.5"/><circle cx="532.5" cy="532.8" r="4.5"/><circle cx="538.5" cy="550.8" r="4.5"/><circle cx="541.2" cy="443" r="4.5"/><circle cx="544.2" cy="483.6" r="4.5"/><circle cx="547.1" cy="482" r="4.5"/><circle cx="550.1" cy="482.8" r="4.5"/><circle cx="553.1" cy="480.5" r="4.5"/><circle cx="556.1" cy="486.7" r="4.5"/><circle cx="559.1" cy="491.4" r="4.5"/><circle cx="562" cy="506.2" r="4.5"/><circle cx="565" cy="493.8" r="4.5"/><circle cx="567.9" cy="505.5" r="4.5"/><circle cx="570.9" cy="480" r="4.5"/><circle cx="573.9" cy="510.2" r="4.5"/><circle cx="576.6" cy="540.6" r="4.5"/><circle cx="579.6" cy="517.2" r="4.5"/><circle cx="582.5" cy="512.5" r="4.5"/><circle cx="585.5" cy="484.1" r="4.5"/><circle cx="588.5" cy="496.1" r="4.5"/><circle cx="591.5" cy="511.7" r="4.5"/><circle cx="594.5" cy="506.2" r="4.5"/><circle cx="597.4" cy="522.7" r="4.5"/><circle cx="600.4" cy="533.6" r="4.5"/><circle cx="603.3" cy="545" r="4.5"/><circle cx="606.3" cy="435.2" r="4.5"/><circle cx="609.3" cy="472.7" r="4.5"/><circle cx="612" cy="465.6" r="4.5"/><circle cx="615" cy="521.9" r="4.5"/><circle cx="617.9" cy="487.5" r="4.5"/><circle cx="620.9" cy="500.8" r="4.5"/><circle cx="623.9" cy="490.6" r="4.5"/><circle cx="626.9" cy="503.1" r="4.5"/><circle cx="629.9" cy="514.8" r="4.5"/><circle cx="632.8" cy="525" r="4.5"/><circle cx="635.8" cy="523.4" r="4.5"/><circle cx="638.7" cy="535.9" r="4.5"/><circle cx="641.7" cy="532.8" r="4.5"/><circle cx="644.7" cy="486.7" r="4.5"/><circle cx="647.5" cy="501.6" r="4.5"/><circle cx="650.5" cy="520.3" r="4.5"/><circle cx="653.4" cy="511.7" r="4.5"/><circle cx="656.4" cy="491.9" r="4.5"/></g>
<path d="M121 337h562v1h-562zM121 337h1v262h-1zM681 337h2v262h-2zM121 383h562v2h-562zM121 597h562v2h-562zM113 393h8v2h-8zM113 442h8v2h-8zM113 490h8v2h-8zM113 539h8v2h-8zM113 588h8v2h-8z" fill="#333" shape-rendering="crispEdges"/>
<g font-size="23.1" fill="#4d4d4d" text-anchor="end">
<text x="106.4" y="403.6">0.20</text>
<text x="106.4" y="452.6">0.15</text>
<text x="106.4" y="500.6">0.10</text>
<text x="106.4" y="549.6">0.05</text>
<text x="106.4" y="598.6">0.00</text>
</g>
</g>
<g id="p3">
<path d="M768 337h562v47h-562z" fill="#d9d9d9" shape-rendering="crispEdges"/>
<text x="1047.8" y="370" font-size="22.9" fill="#1a1a1a" text-anchor="middle">Suisun Bay</text>
<path d="M769 409h559v1h-559zM769 462h559v1h-559zM769 515h559v1h-559zM769 568h559v1h-559zM882 385h1v212h-1zM1059 385h1v212h-1zM1236 385h1v212h-1zM769 435h559v2h-559zM769 488h559v2h-559zM769 541h559v2h-559zM769 594h559v2h-559zM792 385h2v212h-2zM969 385h2v212h-2zM1146 385h2v212h-2zM1323 385h2v212h-2z" fill="#ebebeb" shape-rendering="crispEdges"/>
<path d="M792.8 512.8L795.8 530.8L798.5 498.8L801.5 509.7L804.4 547.2L807.4 545.6L810.4 484.7L813.4 492.2L816.4 499.2L819.3 499.2L822.3 499.2L825.2 555.8L828.2 555L831.2 519.8L833.9 562.8L836.9 587.8L839.8 579.2L842.8 562L845.8 566.7L848.8 541.7L851.8 526.9L854.7 526.1L857.7 526.9L860.6 555.8L863.6 526.9L866.6 555.8L869.4 519.8L872.4 541.7L875.3 528.8L878.3 492L881.3 505.8L884.3 498.4L887.3 471.1L890.2 471.1L893.2 498.4L896.1 519.8L899.1 534.7L902.1 519.8L904.8 512.8L907.8 485L910.7 484.7L913.7 470.6L916.7 463.6L919.7 435.8L922.7 442.8L925.6 442.8L928.6 463.1L931.5 492L934.5 519.8L937.5 498.8L940.2 456.9L943.2 456.9L946.1 477.5L949.1 429.1L952.1 421.7L955.1 435.3L958.1 392.8L961 413.9L964 435.8L966.9 463.6L969.9 505.3L972.9 498.3L975.6 485L978.6 519.7L981.5 428.8L984.5 435.8L987.5 413.9L990.5 470.6L993.5 463.1L996.4 421.7L999.4 428.8L1002.3 456.6L1005.3 492L1008.3 545.9L1011.1 526.6L1014.1 545.9L1017 534.7L1020 526.6L1023 519.4L1026 456.9L1029 428.8L1031.9 406.9L1034.9 456.9L1037.8 456.9L1040.8 512.8L1043.8 505.3L1046.5 525.8L1049.5 530.8L1052.4 546.9L1055.4 528.4L1058.4 505L1061.4 484.7L1064.4 466.6L1067.3 470.2L1070.3 470.6L1073.2 470.6L1076.2 477.2L1079.2 477.5L1081.9 519.5L1084.9 550.6L1087.8 491.2L1090.8 456.9L1093.8 428.8L1096.8 435L1099.8 445.2L1102.7 459.7L1105.7 492.8L1108.6 488.1L1111.6 458.1L1114.6 491.2L1117.3 444.1L1120.3 520.6L1123.2 540.6L1126.2 528.4L1129.2 494.8L1132.2 485.8L1135.2 458L1138.1 506.9L1141.1 495.3L1144 501.9L1147 501.9L1150 521.9L1152.8 495.6M1161.7 449.7L1164.7 448.1L1167.7 480.6L1170.7 434.1L1173.6 451.2L1176.6 452.8M1188.2 454.8L1191.2 485.6L1194.1 447.8L1197.1 435.9L1200.1 432.5L1203.1 461.9L1206.1 433.8L1209 459.1L1212 452.8L1214.9 471.1L1217.9 474.7L1220.9 480.2L1223.6 493.8L1226.6 458L1229.5 462.2L1232.5 451.2L1235.5 443.8L1238.5 416.9L1241.5 422.8L1244.4 463L1247.4 454.4L1250.3 484.1L1253.3 445L1256.3 457.5L1259 526.7L1262 490.3L1264.9 525.5L1267.9 506.2L1270.9 502.8L1273.9 496.6L1276.9 480.6L1279.8 469.7L1282.8 468.4L1285.7 474.7L1288.7 495.8L1291.7 485.6L1294.5 559.7L1297.5 520.8L1300.4 491.9L1303.4 476.7" stroke="#7f7f7f" stroke-width="4" fill="none" stroke-linejoin="round" shape-rendering="crispEdges"/>
<g fill="none" stroke="#000" stroke-width="1.15"><circle cx="792.8" cy="512.8" r="4.5"/><circle cx="795.8" cy="530.8" r="4.5"/><circle cx="798.5" cy="498.8" r="4.5"/><circle cx="801.5" cy="509.7" r="4.5"/><circle cx="804.4" cy="547.2" r="4.5"/><circle cx="807.4" cy="545.6" r="4.5"/><circle cx="810.4" cy="484.7" r="4.5"/><circle cx="813.4" cy="492.2" r="4.5"/><circle cx="816.4" cy="499.2" r="4.5"/><circle cx="819.3" cy="499.2" r="4.5"/><circle cx="822.3" cy="499.2" r="4.5"/><circle cx="825.2" cy="555.8" r="4.5"/><circle cx="828.2" cy="555" r="4.5"/><circle cx="831.2" cy="519.8" r="4.5"/><circle cx="833.9" cy="562.8" r="4.5"/><circle cx="836.9" cy="587.8" r="4.5"/><circle cx="839.8" cy="579.2" r="4.5"/><circle cx="842.8" cy="562" r="4.5"/><circle cx="845.8" cy="566.7" r="4.5"/><circle cx="848.8" cy="541.7" r="4.5"/><circle cx="851.8" cy="526.9" r="4.5"/><circle cx="854.7" cy="526.1" r="4.5"/><circle cx="857.7" cy="526.9" r="4.5"/><circle cx="860.6" cy="555.8" r="4.5"/><circle cx="863.6" cy="526.9" r="4.5"/><circle cx="866.6" cy="555.8" r="4.5"/><circle cx="869.4" cy="519.8" r="4.5"/><circle cx="872.4" cy="541.7" r="4.5"/><circle cx="875.3" cy="528.8" r="4.5"/><circle cx="878.3" cy="492" r="4.5"/><circle cx="881.3" cy="505.8" r="4.5"/><circle cx="884.3" cy="498.4" r="4.5"/><circle cx="887.3" cy="471.1" r="4.5"/><circle cx="890.2" cy="471.1" r="4.5"/><circle cx="893.2" cy="498.4" r="4.5"/><circle cx="896.1" cy="519.8" r="4.5"/><circle cx="899.1" cy="534.7" r="4.5"/><circle cx="902.1" cy="519.8" r="4.5"/><circle cx="904.8" cy="512.8" r="4.5"/><circle cx="907.8" cy="485" r="4.5"/><circle cx="910.7" cy="484.7" r="4.5"/><circle cx="913.7" cy="470.6" r="4.5"/><circle cx="916.7" cy="463.6" r="4.5"/><circle cx="919.7" cy="435.8" r="4.5"/><circle cx="922.7" cy="442.8" r="4.5"/><circle cx="925.6" cy="442.8" r="4.5"/><circle cx="928.6" cy="463.1" r="4.5"/><circle cx="931.5" cy="492" r="4.5"/><circle cx="934.5" cy="519.8" r="4.5"/><circle cx="937.5" cy="498.8" r="4.5"/><circle cx="940.2" cy="456.9" r="4.5"/><circle cx="943.2" cy="456.9" r="4.5"/><circle cx="946.1" cy="477.5" r="4.5"/><circle cx="949.1" cy="429.1" r="4.5"/><circle cx="952.1" cy="421.7" r="4.5"/><circle cx="955.1" cy="435.3" r="4.5"/><circle cx="958.1" cy="392.8" r="4.5"/><circle cx="961" cy="413.9" r="4.5"/><circle cx="964" cy="435.8" r="4.5"/><circle cx="966.9" cy="463.6" r="4.5"/><circle cx="969.9" cy="505.3" r="4.5"/><circle cx="972.9" cy="498.3" r="4.5"/><circle cx="975.6" cy="485" r="4.5"/><circle cx="978.6" cy="519.7" r="4.5"/><circle cx="981.5" cy="428.8" r="4.5"/><circle cx="984.5" cy="435.8" r="4.5"/><circle cx="987.5" cy="413.9" r="4.5"/><circle cx="990.5" cy="470.6" r="4.5"/><circle cx="993.5" cy="463.1" r="4.5"/><circle cx="996.4" cy="421.7" r="4.5"/><circle cx="999.4" cy="428.8" r="4.5"/><circle cx="1002.3" cy="456.6" r="4.5"/><circle cx="1005.3" cy="492" r="4.5"/><circle cx="1008.3" cy="545.9" r="4.5"/><circle cx="1011.1" cy="526.6" r="4.5"/><circle cx="1014.1" cy="545.9" r="4.5"/><circle cx="1017" cy="534.7" r="4.5"/><circle cx="1020" cy="526.6" r="4.5"/><circle cx="1023" cy="519.4" r="4.5"/><circle cx="1026" cy="456.9" r="4.5"/><circle cx="1029" cy="428.8" r="4.5"/><circle cx="1031.9" cy="406.9" r="4.5"/><circle cx="1034.9" cy="456.9" r="4.5"/><circle cx="1037.8" cy="456.9" r="4.5"/><circle cx="1040.8" cy="512.8" r="4.5"/><circle cx="1043.8" cy="505.3" r="4.5"/><circle cx="1046.5" cy="525.8" r="4.5"/><circle cx="1049.5" cy="530.8" r="4.5"/><circle cx="1052.4" cy="546.9" r="4.5"/><circle cx="1055.4" cy="528.4" r="4.5"/><circle cx="1058.4" cy="505" r="4.5"/><circle cx="1061.4" cy="484.7" r="4.5"/><circle cx="1064.4" cy="466.6" r="4.5"/><circle cx="1067.3" cy="470.2" r="4.5"/><circle cx="1070.3" cy="470.6" r="4.5"/><circle cx="1073.2" cy="470.6" r="4.5"/><circle cx="1076.2" cy="477.2" r="4.5"/><circle cx="1079.2" cy="477.5" r="4.5"/><circle cx="1081.9" cy="519.5" r="4.5"/><circle cx="1084.9" cy="550.6" r="4.5"/><circle cx="1087.8" cy="491.2" r="4.5"/><circle cx="1090.8" cy="456.9" r="4.5"/><circle cx="1093.8" cy="428.8" r="4.5"/><circle cx="1096.8" cy="435" r="4.5"/><circle cx="1099.8" cy="445.2" r="4.5"/><circle cx="1102.7" cy="459.7" r="4.5"/><circle cx="1105.7" cy="492.8" r="4.5"/><circle cx="1108.6" cy="488.1" r="4.5"/><circle cx="1111.6" cy="458.1" r="4.5"/><circle cx="1114.6" cy="491.2" r="4.5"/><circle cx="1117.3" cy="444.1" r="4.5"/><circle cx="1120.3" cy="520.6" r="4.5"/><circle cx="1123.2" cy="540.6" r="4.5"/><circle cx="1126.2" cy="528.4" r="4.5"/><circle cx="1129.2" cy="494.8" r="4.5"/><circle cx="1132.2" cy="485.8" r="4.5"/><circle cx="1135.2" cy="458" r="4.5"/><circle cx="1138.1" cy="506.9" r="4.5"/><circle cx="1141.1" cy="495.3" r="4.5"/><circle cx="1144" cy="501.9" r="4.5"/><circle cx="1147" cy="501.9" r="4.5"/><circle cx="1150" cy="521.9" r="4.5"/><circle cx="1152.8" cy="495.6" r="4.5"/><circle cx="1161.7" cy="449.7" r="4.5"/><circle cx="1164.7" cy="448.1" r="4.5"/><circle cx="1167.7" cy="480.6" r="4.5"/><circle cx="1170.7" cy="434.1" r="4.5"/><circle cx="1173.6" cy="451.2" r="4.5"/><circle cx="1176.6" cy="452.8" r="4.5"/><circle cx="1188.2" cy="454.8" r="4.5"/><circle cx="1191.2" cy="485.6" r="4.5"/><circle cx="1194.1" cy="447.8" r="4.5"/><circle cx="1197.1" cy="435.9" r="4.5"/><circle cx="1200.1" cy="432.5" r="4.5"/><circle cx="1203.1" cy="461.9" r="4.5"/><circle cx="1206.1" cy="433.8" r="4.5"/><circle cx="1209" cy="459.1" r="4.5"/><circle cx="1212" cy="452.8" r="4.5"/><circle cx="1214.9" cy="471.1" r="4.5"/><circle cx="1217.9" cy="474.7" r="4.5"/><circle cx="1220.9" cy="480.2" r="4.5"/><circle cx="1223.6" cy="493.8" r="4.5"/><circle cx="1226.6" cy="458" r="4.5"/><circle cx="1229.5" cy="462.2" r="4.5"/><circle cx="1232.5" cy="451.2" r="4.5"/><circle cx="1235.5" cy="443.8" r="4.5"/><circle cx="1238.5" cy="416.9" r="4.5"/><circle cx="1241.5" cy="422.8" r="4.5"/><circle cx="1244.4" cy="463" r="4.5"/><circle cx="1247.4" cy="454.4" r="4.5"/><circle cx="1250.3" cy="484.1" r="4.5"/><circle cx="1253.3" cy="445" r="4.5"/><circle cx="1256.3" cy="457.5" r="4.5"/><circle cx="1259" cy="526.7" r="4.5"/><circle cx="1262" cy="490.3" r="4.5"/><circle cx="1264.9" cy="525.5" r="4.5"/><circle cx="1267.9" cy="506.2" r="4.5"/><circle cx="1270.9" cy="502.8" r="4.5"/><circle cx="1273.9" cy="496.6" r="4.5"/><circle cx="1276.9" cy="480.6" r="4.5"/><circle cx="1279.8" cy="469.7" r="4.5"/><circle cx="1282.8" cy="468.4" r="4.5"/><circle cx="1285.7" cy="474.7" r="4.5"/><circle cx="1288.7" cy="495.8" r="4.5"/><circle cx="1291.7" cy="485.6" r="4.5"/><circle cx="1294.5" cy="559.7" r="4.5"/><circle cx="1297.5" cy="520.8" r="4.5"/><circle cx="1300.4" cy="491.9" r="4.5"/><circle cx="1303.4" cy="476.7" r="4.5"/></g>
<path d="M768 337h562v1h-562zM768 337h1v262h-1zM1328 337h2v262h-2zM768 383h562v2h-562zM768 597h562v2h-562zM760 435h8v2h-8zM760 488h8v2h-8zM760 541h8v2h-8zM760 594h8v2h-8zM792 599h2v6h-2zM969 599h2v6h-2zM1146 599h2v6h-2zM1323 599h2v6h-2z" fill="#333" shape-rendering="crispEdges"/>
<g font-size="23.1" fill="#4d4d4d" text-anchor="end">
<text x="753.4" y="445.6">0.100</text>
<text x="753.4" y="498.6">0.075</text>
<text x="753.4" y="551.6">0.050</text>
<text x="753.4" y="604.6">0.025</text>
</g>
<g font-size="23.47" fill="#4d4d4d" text-anchor="middle">
<text x="792.8" y="629.6">2010</text>
<text x="969.8" y="629.6">2015</text>
<text x="1146.8" y="629.6">2020</text>
<text x="1323.8" y="629.6">2025</text>
</g>
</g>
<g id="p4">
<path d="M121 613h562v46h-562z" fill="#d9d9d9" shape-rendering="crispEdges"/>
<text x="400.8" y="646" font-size="22.9" fill="#1a1a1a" text-anchor="middle">Suisun Marsh</text>
<path d="M122 707h559v1h-559zM122 758h559v1h-559zM122 809h559v1h-559zM122 860h559v1h-559zM235 660h1v212h-1zM412 660h1v212h-1zM589 660h1v212h-1zM122 681h559v2h-559zM122 732h559v2h-559zM122 782h559v2h-559zM122 833h559v2h-559zM145 660h2v212h-2zM322 660h2v212h-2zM499 660h2v212h-2zM676 660h2v212h-2z" fill="#ebebeb" shape-rendering="crispEdges"/>
<path d="M396.8 836.5L399.5 843.2L402.5 842.7L405.4 843.2L408.4 827.1L411.4 824L414.4 821.9L417.4 829.2L420.3 834.4L423.3 843.2L426.2 840.6L429.2 837L432.2 848.4L434.9 825.8L437.9 808.9L440.8 782.8L443.8 738L446.8 815.6L449.8 828.6L452.8 741.5L455.7 814.6L458.7 839.6L461.6 844.8L464.6 836.5L467.6 794.8L470.3 833.3L473.3 830.7L476.2 784.9L479.2 758.6L482.2 825L485.2 832.8L488.2 818.8L491.1 788L494.1 668.9L497 756.7L500 855L503 864.1L505.8 862M514.7 823.4L517.7 825L520.7 828.1L523.7 831.2L526.6 852.1L529.6 849.5M541.2 839.6L544.2 840.8L547.1 791.7L550.1 827.1L553.1 824L556.1 828.1L559.1 835.4L562 847.9L565 847.4L567.9 848.4L570.9 849.5L573.9 849.5L576.6 847.9L579.6 805.7L582.5 846.4L585.5 835.4L588.5 831.8L591.5 826.6L594.5 847.4L597.4 852.6L600.4 856.2L603.3 859.4L606.3 842.7L609.3 843.2L612 840.1L615 851L617.9 847.9L620.9 846.9L623.9 840.1L626.9 844.8L629.9 847.9L632.8 849.5L635.8 850.5L638.7 852.1L641.7 854.2L644.7 842.7L647.5 851L650.5 844.3L653.4 828.1L656.4 833.3" stroke="#7f7f7f" stroke-width="4" fill="none" stroke-linejoin="round" shape-rendering="crispEdges"/>
<g fill="none" stroke="#000" stroke-width="1.15"><circle cx="396.8" cy="836.5" r="4.5"/><circle cx="399.5" cy="843.2" r="4.5"/><circle cx="402.5" cy="842.7" r="4.5"/><circle cx="405.4" cy="843.2" r="4.5"/><circle cx="408.4" cy="827.1" r="4.5"/><circle cx="411.4" cy="824" r="4.5"/><circle cx="414.4" cy="821.9" r="4.5"/><circle cx="417.4" cy="829.2" r="4.5"/><circle cx="420.3" cy="834.4" r="4.5"/><circle cx="423.3" cy="843.2" r="4.5"/><circle cx="426.2" cy="840.6" r="4.5"/><circle cx="429.2" cy="837" r="4.5"/><circle cx="432.2" cy="848.4" r="4.5"/><circle cx="434.9" cy="825.8" r="4.5"/><circle cx="437.9" cy="808.9" r="4.5"/><circle cx="440.8" cy="782.8" r="4.5"/><circle cx="443.8" cy="738" r="4.5"/><circle cx="446.8" cy="815.6" r="4.5"/><circle cx="449.8" cy="828.6" r="4.5"/><circle cx="452.8" cy="741.5" r="4.5"/><circle cx="455.7" cy="814.6" r="4.5"/><circle cx="458.7" cy="839.6" r="4.5"/><circle cx="461.6" cy="844.8" r="4.5"/><circle cx="464.6" cy="836.5" r="4.5"/><circle cx="467.6" cy="794.8" r="4.5"/><circle cx="470.3" cy="833.3" r="4.5"/><circle cx="473.3" cy="830.7" r="4.5"/><circle cx="476.2" cy="784.9" r="4.5"/><circle cx="479.2" cy="758.6" r="4.5"/><circle cx="482.2" cy="825" r="4.5"/><circle cx="485.2" cy="832.8" r="4.5"/><circle cx="488.2" cy="818.8" r="4.5"/><circle cx="491.1" cy="788" r="4.5"/><circle cx="494.1" cy="668.9" r="4.5"/><circle cx="497" cy="756.7" r="4.5"/><circle cx="500" cy="855" r="4.5"/><circle cx="503" cy="864.1" r="4.5"/><circle cx="505.8" cy="862" r="4.5"/><circle cx="514.7" cy="823.4" r="4.5"/><circle cx="517.7" cy="825" r="4.5"/><circle cx="520.7" cy="828.1" r="4.5"/><circle cx="523.7" cy="831.2" r="4.5"/><circle cx="526.6" cy="852.1" r="4.5"/><circle cx="529.6" cy="849.5" r="4.5"/><circle cx="541.2" cy="839.6" r="4.5"/><circle cx="544.2" cy="840.8" r="4.5"/><circle cx="547.1" cy="791.7" r="4.5"/><circle cx="550.1" cy="827.1" r="4.5"/><circle cx="553.1" cy="824" r="4.5"/><circle cx="556.1" cy="828.1" r="4.5"/><circle cx="559.1" cy="835.4" r="4.5"/><circle cx="562" cy="847.9" r="4.5"/><circle cx="565" cy="847.4" r="4.5"/><circle cx="567.9" cy="848.4" r="4.5"/><circle cx="570.9" cy="849.5" r="4.5"/><circle cx="573.9" cy="849.5" r="4.5"/><circle cx="576.6" cy="847.9" r="4.5"/><circle cx="579.6" cy="805.7" r="4.5"/><circle cx="582.5" cy="846.4" r="4.5"/><circle cx="585.5" cy="835.4" r="4.5"/><circle cx="588.5" cy="831.8" r="4.5"/><circle cx="591.5" cy="826.6" r="4.5"/><circle cx="594.5" cy="847.4" r="4.5"/><circle cx="597.4" cy="852.6" r="4.5"/><circle cx="600.4" cy="856.2" r="4.5"/><circle cx="603.3" cy="859.4" r="4.5"/><circle cx="606.3" cy="842.7" r="4.5"/><circle cx="609.3" cy="843.2" r="4.5"/><circle cx="612" cy="840.1" r="4.5"/><circle cx="615" cy="851" r="4.5"/><circle cx="617.9" cy="847.9" r="4.5"/><circle cx="620.9" cy="846.9" r="4.5"/><circle cx="623.9" cy="840.1" r="4.5"/><circle cx="626.9" cy="844.8" r="4.5"/><circle cx="629.9" cy="847.9" r="4.5"/><circle cx="632.8" cy="849.5" r="4.5"/><circle cx="635.8" cy="850.5" r="4.5"/><circle cx="638.7" cy="852.1" r="4.5"/><circle cx="641.7" cy="854.2" r="4.5"/><circle cx="644.7" cy="842.7" r="4.5"/><circle cx="647.5" cy="851" r="4.5"/><circle cx="650.5" cy="844.3" r="4.5"/><circle cx="653.4" cy="828.1" r="4.5"/><circle cx="656.4" cy="833.3" r="4.5"/></g>
<path d="M121 613h562v1h-562zM121 613h1v261h-1zM681 613h2v261h-2zM121 658h562v2h-562zM121 872h562v2h-562zM113 681h8v2h-8zM113 732h8v2h-8zM113 782h8v2h-8zM113 833h8v2h-8zM145 874h2v7h-2zM322 874h2v7h-2zM499 874h2v7h-2zM676 874h2v7h-2z" fill="#333" shape-rendering="crispEdges"/>
<g font-size="23.1" fill="#4d4d4d" text-anchor="end">
<text x="106.4" y="691.6">0.4</text>
<text x="106.4" y="742.6">0.3</text>
<text x="106.4" y="792.6">0.2</text>
<text x="106.4" y="843.6">0.1</text>
</g>
<g font-size="23.47" fill="#4d4d4d" text-anchor="middle">
<text x="145.8" y="905.6">2010</text>
<text x="322.8" y="905.6">2015</text>
<text x="499.8" y="905.6">2020</text>
<text x="676.8" y="905.6">2025</text>
</g>
</g>
<text x="725" y="940" font-size="29.33" fill="#000" text-anchor="middle">Date</text>
<text transform="translate(37.2,491.5) rotate(-90)" font-size="29.33" fill="#000" text-anchor="middle">Value</text>
</svg>
</body></html>
